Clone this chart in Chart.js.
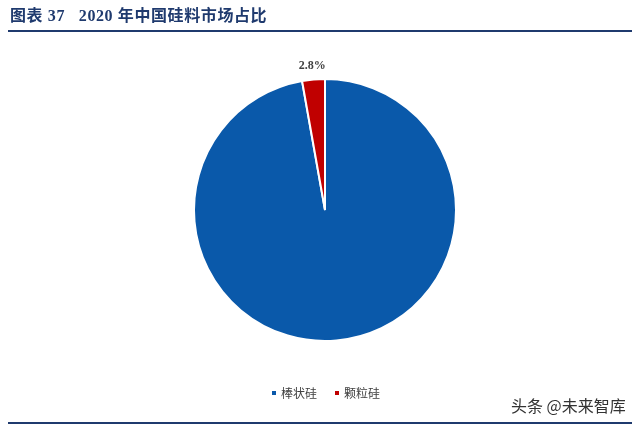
<!DOCTYPE html>
<html><head><meta charset="utf-8">
<script src="https://cdn.jsdelivr.net/npm/chart.js@4"></script>
<style>html,body{margin:0;padding:0;background:#fff}#wrap{width:640px;height:426px;position:relative}</style>
</head><body><div id="wrap"><canvas id="c" width="640" height="426"></canvas></div>
<script>
const categories = ["棒状硅", "颗粒硅"];
const shares = [97.2, 2.8];
const labelsShown = ["", "2.8%"];
const colors = ["#0A59AA", "#C00000"];
const titleText = "图表 37   2020 年中国硅料市场占比";
const watermark = "头条 @未来智库";

const deco = {
  id: 'deco',
  afterDraw(chart) {
    const ctx = chart.ctx;
    ctx.save();
    // title
    ctx.fillStyle = '#1F3A6E';
    ctx.font = 'bold 16px "Liberation Serif", "Noto Sans CJK SC", serif';
    ctx.letterSpacing = '0.6px';
    ctx.textBaseline = 'middle';
    ctx.textAlign = 'left';
    ctx.fillText(titleText, 10, 17);
    ctx.letterSpacing = '0px';
    ctx.fillStyle = '#1F3A6E';
    ctx.fillRect(8, 30, 624, 2);
    ctx.fillRect(8, 422, 624, 2);
    // slice labels
    const meta = chart.getDatasetMeta(0);
    ctx.font = 'bold 12px "Liberation Serif", "Noto Sans CJK SC", serif';
    ctx.fillStyle = '#404040';
    ctx.textAlign = 'center';
    meta.data.forEach((arc, i) => {
      if (!labelsShown[i]) return;
      const mid = (arc.startAngle + arc.endAngle) / 2;
      const r = arc.outerRadius + 14;
      ctx.fillText(labelsShown[i], arc.x + r * Math.cos(mid), arc.y + r * Math.sin(mid));
    });
    // legend
    ctx.font = '12px "Noto Sans CJK SC", sans-serif';
    ctx.textAlign = 'left';
    const lx = [272, 335];
    categories.forEach((c, i) => {
      ctx.fillStyle = colors[i];
      ctx.fillRect(lx[i], 391, 4, 4);
      ctx.fillStyle = '#404040';
      ctx.fillText(c, lx[i] + 9, 393);
    });
    // watermark
    ctx.font = '16px "Noto Sans CJK SC", sans-serif';
    ctx.fillStyle = '#333';
    ctx.fillText(watermark, 511, 406);
    ctx.restore();
  }
};

new Chart(document.getElementById('c'), {
  type: 'pie',
  data: {
    labels: categories,
    datasets: [{ data: shares, backgroundColor: colors, borderColor: '#fff', borderWidth: 2 }]
  },
  options: {
    responsive: false,
    animation: false,
    layout: { padding: { top: 78, left: 193, right: 183, bottom: 84 } },
    plugins: { legend: { display: false }, tooltip: { enabled: false } }
  },
  plugins: [deco]
});
</script></body></html>
